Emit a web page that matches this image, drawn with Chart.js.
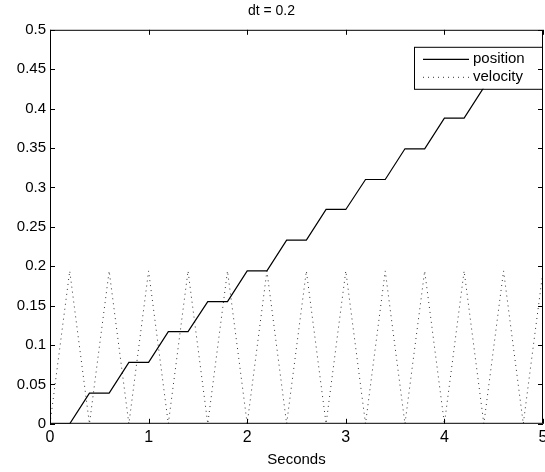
<!DOCTYPE html>
<html>
<head>
<meta charset="utf-8">
<script src="https://cdn.jsdelivr.net/npm/chart.js@4.4.1/dist/chart.umd.min.js"></script>
<style>
  html, body { margin: 0; padding: 0; background: #fff; }
  #wrap { width: 545px; height: 472px; }
</style>
</head>
<body>
<div id="wrap"><canvas id="plot" width="545" height="472"></canvas></div>
<script>
// time samples (s), every 0.2 s
const times = [0, 0.2, 0.4, 0.6, 0.8, 1.0, 1.2, 1.4, 1.6, 1.8, 2.0, 2.2, 2.4,
               2.6, 2.8, 3.0, 3.2, 3.4, 3.6, 3.8, 4.0, 4.2, 4.4, 4.6, 4.8, 5.0];
// position
const position = [0, 0, 0.039, 0.039, 0.078, 0.078, 0.117, 0.117, 0.155, 0.155,
                  0.194, 0.194, 0.233, 0.233, 0.272, 0.272, 0.310, 0.310, 0.349, 0.349,
                  0.388, 0.388, 0.427, 0.427, 0.466, 0.466];
// velocity, dotted saw-tooth
const velocity = [0, 0.194, 0, 0.194, 0, 0.194, 0, 0.194, 0, 0.194, 0, 0.194, 0,
                  0.194, 0, 0.194, 0, 0.194, 0, 0.194, 0, 0.194, 0, 0.194, 0, 0.194];
const xTicks = [0, 1, 2, 3, 4, 5];
const yTicks = [0, 0.05, 0.1, 0.15, 0.2, 0.25, 0.3, 0.35, 0.4, 0.45, 0.5];
const seriesNames = ['position', 'velocity'];

const FONT = 'Liberation Sans, Arial, Helvetica, sans-serif';

function toPoints(ys) {
    return times.map((t, i) => ({ x: t, y: ys[i] }));
}

// box + inward ticks, matlab style
const boxPlugin = {
    id: 'box',
    afterDraw(chart) {
        const { ctx, chartArea: a, scales } = chart;
        ctx.save();
        ctx.strokeStyle = '#000';
        ctx.lineWidth = 1;
        ctx.strokeRect(a.left + 0.5, a.top + 0.5, a.right - a.left - 1, a.bottom - a.top - 1);
        ctx.beginPath();
        xTicks.forEach(v => {
            const px = Math.round(scales.x.getPixelForValue(v)) + 0.5;
            ctx.moveTo(px, a.bottom); ctx.lineTo(px, a.bottom - 5);
            ctx.moveTo(px, a.top); ctx.lineTo(px, a.top + 5);
        });
        yTicks.forEach(v => {
            const py = Math.round(scales.y.getPixelForValue(v)) + 0.5;
            ctx.moveTo(a.left, py); ctx.lineTo(a.left + 5, py);
            ctx.moveTo(a.right, py); ctx.lineTo(a.right - 5, py);
        });
        ctx.stroke();
        ctx.restore();
    }
};

// opaque legend in the upper right corner
const legendBoxPlugin = {
    id: 'legendBox',
    afterDatasetsDraw(chart) {
        const { ctx, chartArea: a } = chart;
        const w = 128, h = 42;
        const x0 = a.right - w - 1, y0 = a.top + 17;
        ctx.save();
        ctx.fillStyle = '#fff';
        ctx.fillRect(x0, y0, w, h);
        ctx.strokeStyle = '#000';
        ctx.lineWidth = 1;
        ctx.strokeRect(x0 + 0.5, y0 + 0.5, w, h);
        ctx.font = '15px ' + FONT;
        ctx.textBaseline = 'middle';
        ctx.fillStyle = '#000';
        chart.data.datasets.forEach((ds, i) => {
            const yy = y0 + 12 + i * 18;
            ctx.beginPath();
            ctx.setLineDash(ds.borderDash || []);
            ctx.lineWidth = ds.borderWidth;
            ctx.strokeStyle = ds.borderColor;
            ctx.moveTo(x0 + 9, yy + 0.5);
            ctx.lineTo(x0 + 55, yy + 0.5);
            ctx.stroke();
            ctx.setLineDash([]);
            ctx.fillText(seriesNames[i], x0 + 59, yy);
        });
        ctx.restore();
    }
};

new Chart(document.getElementById('plot').getContext('2d'), {
    type: 'line',
    data: {
        datasets: [{
            label: seriesNames[0],
            data: toPoints(position),
            borderColor: '#000',
            borderWidth: 1.2,
            pointRadius: 0,
            tension: 0
        }, {
            label: seriesNames[1],
            data: toPoints(velocity),
            borderColor: '#333',
            borderWidth: 1,
            borderDash: [1, 4],
            pointRadius: 0,
            tension: 0
        }]
    },
    options: {
        responsive: false,
        animation: false,
        events: [],
        layout: { padding: { left: 0, right: 2, top: 0, bottom: 3 } },
        scales: {
            x: {
                type: 'linear',
                min: 0,
                max: 5,
                afterBuildTicks: s => { s.ticks = xTicks.map(v => ({ value: v })); },
                afterFit: s => { s.paddingLeft = 0; s.paddingRight = 0; },
                grid: { display: false, drawTicks: false },
                border: { display: false },
                ticks: {
                    color: '#000',
                    font: { family: FONT, size: 16 },
                    padding: 4,
                    maxRotation: 0,
                    callback: v => String(v)
                },
                title: {
                    display: true,
                    text: 'Seconds',
                    color: '#000',
                    font: { family: FONT, size: 15 },
                    padding: { top: 0, bottom: 0 }
                }
            },
            y: {
                min: 0,
                max: 0.5,
                afterBuildTicks: s => { s.ticks = yTicks.map(v => ({ value: v })); },
                afterFit: s => { s.width = 50; },
                grid: { display: false, drawTicks: false },
                border: { display: false },
                ticks: {
                    color: '#000',
                    font: { family: FONT, size: 15 },
                    padding: 4,
                    callback: v => String(Number(v.toFixed(2)))
                }
            }
        },
        plugins: {
            legend: { display: false },
            tooltip: { enabled: false },
            title: {
                display: true,
                text: 'dt = 0.2',
                color: '#000',
                font: { family: FONT, size: 14, weight: 'normal' },
                padding: { top: 3, bottom: 10 }
            }
        }
    },
    plugins: [boxPlugin, legendBoxPlugin]
});
</script>
</body>
</html>
